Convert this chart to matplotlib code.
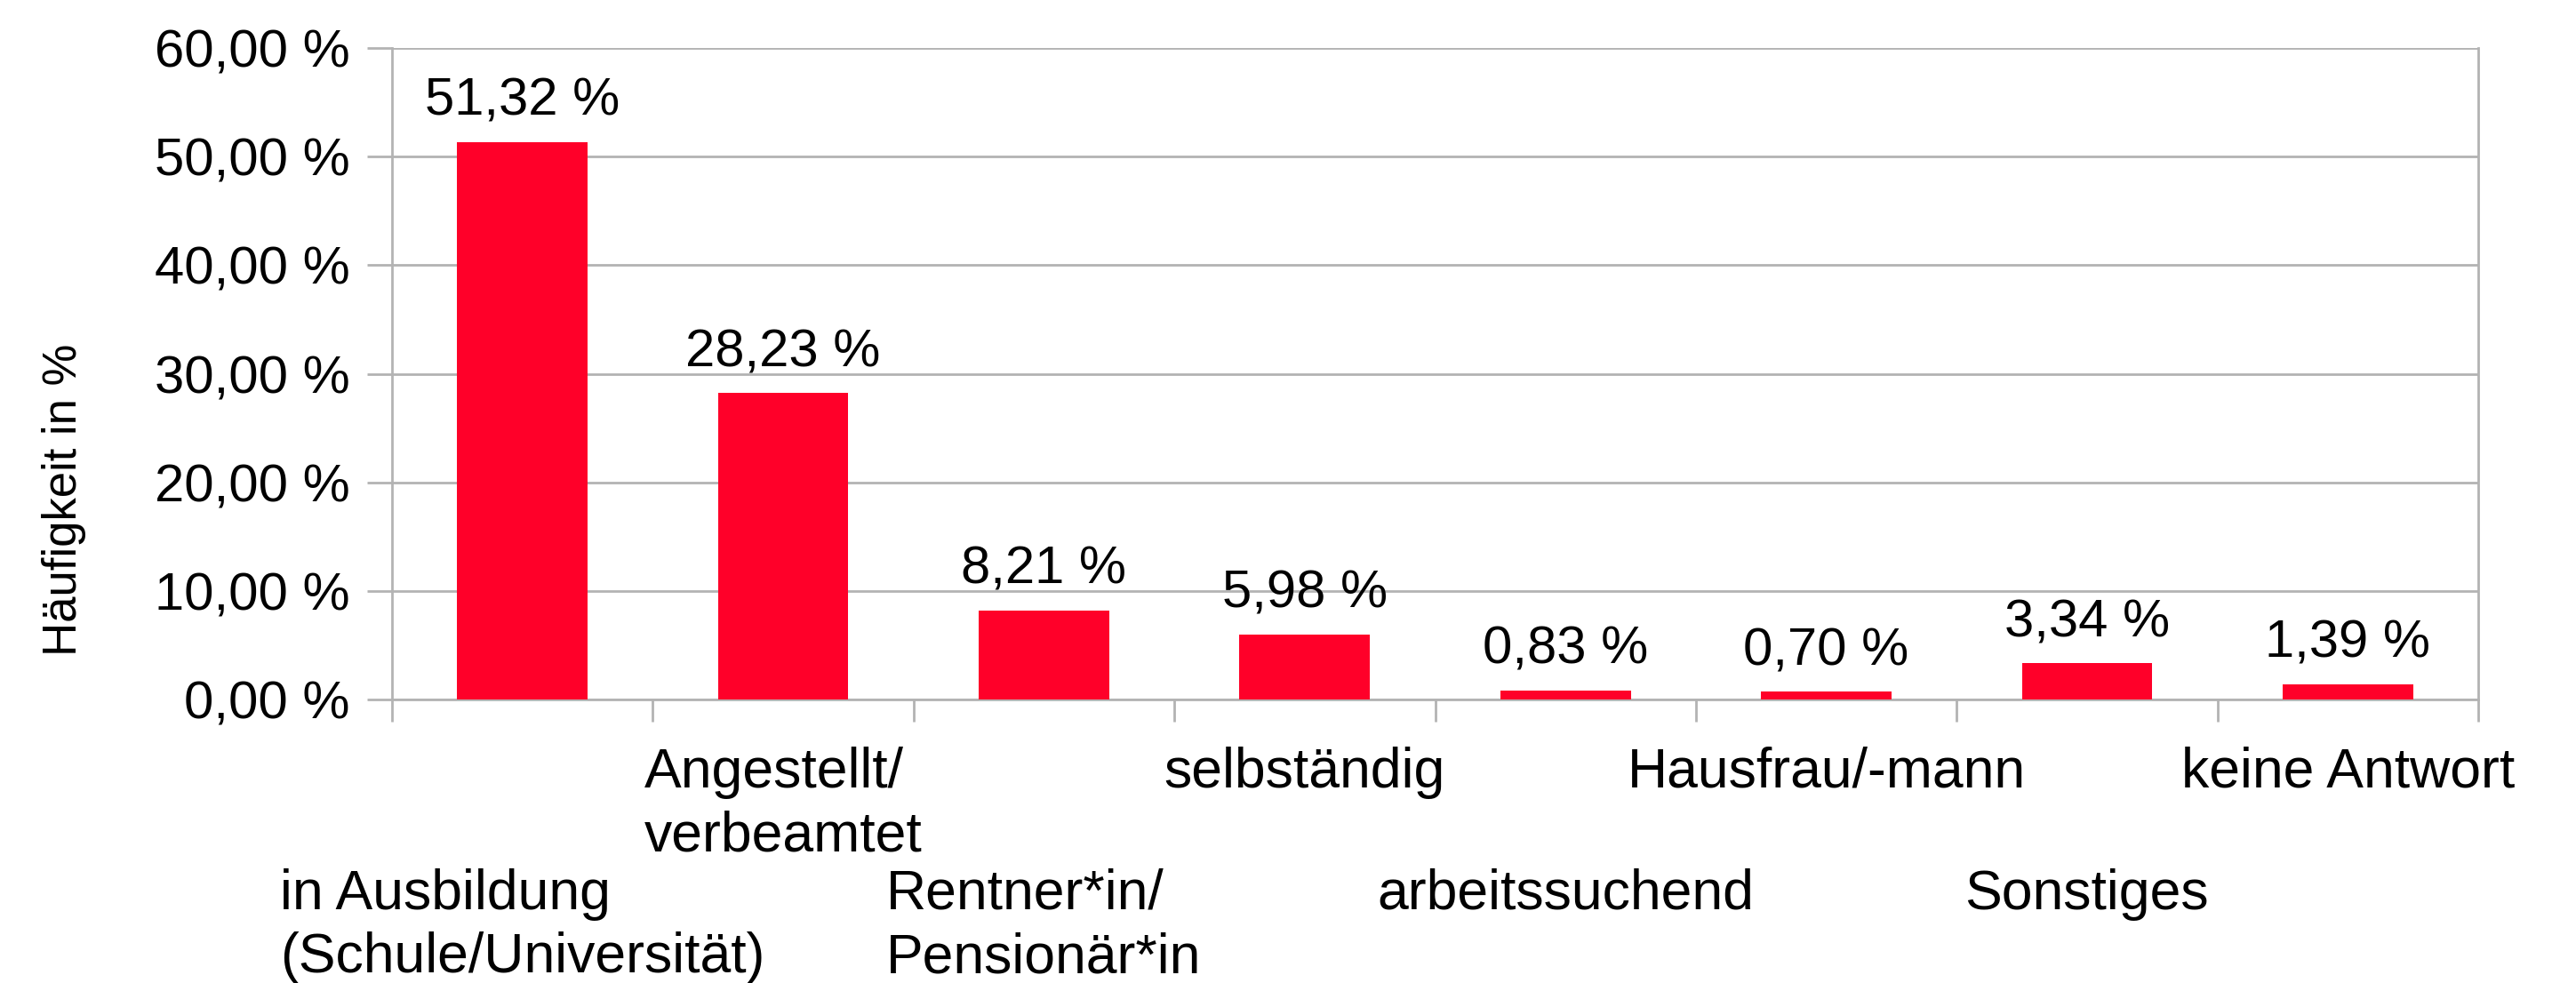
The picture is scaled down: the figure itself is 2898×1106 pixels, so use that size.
import matplotlib

matplotlib.use('Agg')
import matplotlib.pyplot as plt
from matplotlib.ticker import FuncFormatter

plt.rcParams['font.family'] = ['Liberation Sans', 'DejaVu Sans']

# Data
categories = [
    'in Ausbildung\n(Schule/Universität)',
    'Angestellt/\nverbeamtet',
    'Rentner*in/\nPensionär*in',
    'selbständig',
    'arbeitssuchend',
    'Hausfrau/-mann',
    'Sonstiges',
    'keine Antwort',
]
shares = [51.32, 28.23, 8.21, 5.98, 0.83, 0.70, 3.34, 1.39]
y_ticks = [0, 10, 20, 30, 40, 50, 60]
y_label = 'Häufigkeit in %'


def de_pct(v, _pos=None):
    return f'{v:.2f}'.replace('.', ',') + ' %'


BAR_RED = '#ff0029'
GRID = '#b3b3b3'

fig = plt.figure(figsize=(28.98, 11.06), dpi=100)
ax = fig.add_axes([441 / 2898, 1 - 787 / 1106, (2788 - 441) / 2898, (787 - 54) / 1106])

xs = list(range(len(categories)))
bars = ax.bar(xs, shares, width=0.5, color=BAR_RED, zorder=3)
ax.bar_label(bars, labels=[de_pct(v) for v in shares], padding=13, fontsize=43)

ax.set_xlim(-0.5, len(categories) - 0.5)
ax.set_ylim(0, 60)
ax.set_yticks(y_ticks)
ax.yaxis.set_major_formatter(FuncFormatter(de_pct))
ax.tick_params(axis='y', length=20, width=2, color=GRID, pad=14, labelsize=43)

# category boundaries as tick marks, labels drawn staggered below
ax.set_xticks([x - 0.5 for x in xs] + [len(xs) - 0.5])
ax.set_xticklabels([])
ax.tick_params(axis='x', length=18, width=2, color=GRID)
for i, (x, lab) in enumerate(zip(xs, categories)):
    y = -0.072 if i % 2 else -0.259
    ax.text(x, y, lab, transform=ax.get_xaxis_transform(), ha='center', va='top',
            multialignment='left', fontsize=45, linespacing=1.27)

ax.yaxis.grid(True, color=GRID, linewidth=2)
ax.set_axisbelow(True)
for side in ('left', 'bottom', 'right'):
    ax.spines[side].set_color(GRID)
    ax.spines[side].set_linewidth(2)
ax.spines['top'].set_visible(False)

ax.set_ylabel(y_label, fontsize=38)
ax.yaxis.set_label_coords(-0.1466, 0.306)

fig.savefig('out.png', dpi=100)
plt.close(fig)
